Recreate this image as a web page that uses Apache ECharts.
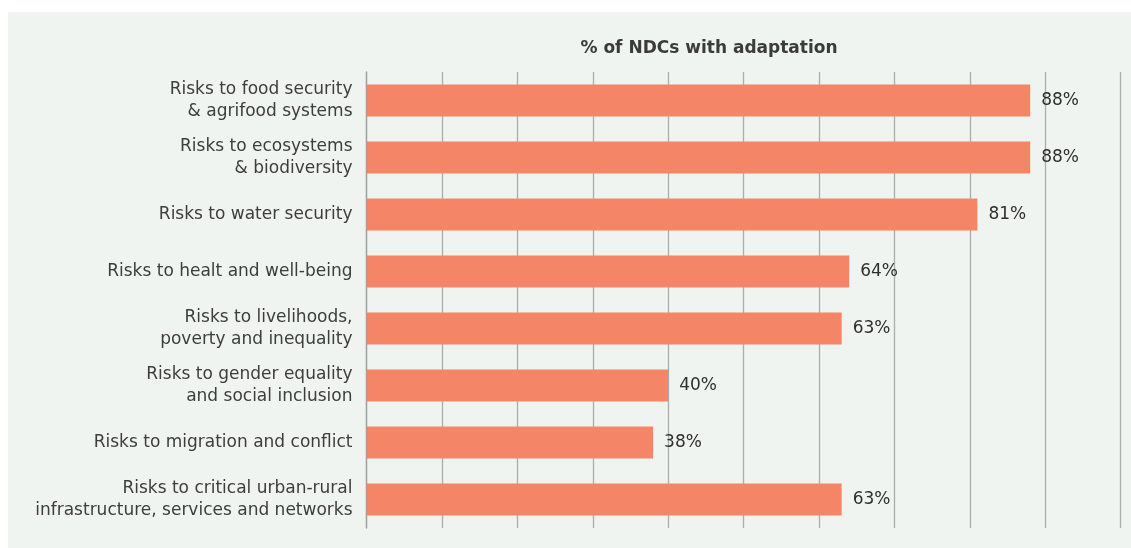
<!DOCTYPE html>
<html>
<head>
<meta charset="utf-8">
<script src="https://cdn.jsdelivr.net/npm/echarts@6/dist/echarts.min.js"></script>
<style>
html,body{margin:0;padding:0;background:#ffffff;}
#bg{position:absolute;left:8px;top:12px;right:0;bottom:0;background:#eff4f0;}
#chart{position:absolute;left:0;top:0;width:1131px;height:548px;}
</style>
</head>
<body>
<div id="bg"></div>
<div id="chart"></div>
<script>
var categories = [
  "Risks to food security\n& agrifood systems",
  "Risks to ecosystems\n& biodiversity",
  "Risks to water security",
  "Risks to healt and well-being",
  "Risks to livelihoods,\npoverty and inequality",
  "Risks to gender equality\nand social inclusion",
  "Risks to migration and conflict",
  "Risks to critical urban-rural\ninfrastructure, services and networks"
];
var values = [88, 88, 81, 64, 63, 40, 38, 63];
var titleText = "% of NDCs with adaptation";

var chart = echarts.init(document.getElementById('chart'), null, {renderer:'canvas'});
var fontFamily = "'DejaVu Sans', sans-serif";
chart.setOption({
  backgroundColor: 'transparent',
  animation: false,
  title: {
    text: titleText,
    left: 704, top: 35, textAlign: 'center',
    textStyle: {fontFamily: fontFamily, fontSize: 17, fontWeight: 'bold', color: '#3b3b3b'}
  },
  grid: {left: 366.5, right: 10.3, top: 72, bottom: 20, containLabel: false},
  xAxis: {
    type: 'value', min: 0, max: 100, interval: 10,
    axisLabel: {show: false}, axisTick: {show: false}, axisLine: {show: false},
    splitLine: {show: true, lineStyle: {color: '#a9aeb1', width: 1.3}}
  },
  yAxis: {
    type: 'category', data: categories, inverse: true,
    axisTick: {show: false},
    axisLine: {show: true, lineStyle: {color: '#9a9fa2', width: 1.3}},
    axisLabel: {fontFamily: fontFamily, fontSize: 17, lineHeight: 22, color: '#3d3d3d', margin: 14, align: 'right'}
  },
  series: [{
    type: 'bar', data: values, barWidth: 32,
    itemStyle: {color: '#f48566'},
    label: {show: true, position: 'right', distance: 11, formatter: '{c}%',
      fontFamily: fontFamily, fontSize: 17, color: '#2f2f2f'}
  }]
});
</script>
</body>
</html>
